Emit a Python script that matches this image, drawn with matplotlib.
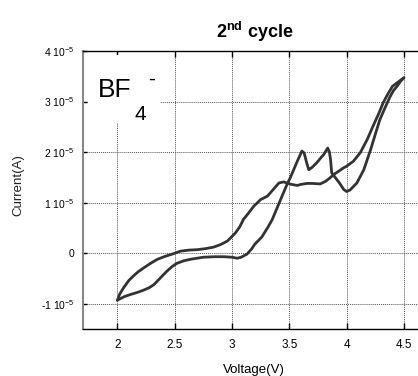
import matplotlib
matplotlib.use('Agg')
from matplotlib import pyplot as plt
from matplotlib import patches
from matplotlib.ticker import FuncFormatter

plt.rcParams['font.family'] = ['Liberation Sans', 'DejaVu Sans']
plt.rcParams['mathtext.fontset'] = 'custom'
plt.rcParams['mathtext.rm'] = 'Liberation Sans'
plt.rcParams['mathtext.bf'] = 'Liberation Sans:bold'
plt.rcParams['mathtext.default'] = 'regular'

# forward scan (2 V -> 4.5 V), the branch with the two peaks
scan_up_v = [2.00, 2.06, 2.11, 2.17, 2.23, 2.28, 2.32, 2.375, 2.43, 2.48, 2.52, 2.58,
             2.64, 2.75, 2.85, 2.93, 3.00, 3.045, 3.08, 3.13, 3.17, 3.20, 3.26, 3.31,
             3.35, 3.40, 3.45, 3.48, 3.51, 3.54, 3.57, 3.61, 3.63, 3.65, 3.67, 3.70,
             3.74, 3.78, 3.80, 3.835, 3.85, 3.86, 3.87, 3.90, 3.94, 3.975, 4.00, 4.03,
             4.06, 4.09, 4.12, 4.15, 4.18, 4.21, 4.25, 4.29, 4.33, 4.38, 4.41, 4.44,
             4.47, 4.50]
scan_up_i = [-0.93, -0.86, -0.82, -0.78, -0.73, -0.68, -0.62, -0.49, -0.36, -0.26, -0.20, -0.15,
             -0.12, -0.08, -0.07, -0.07, -0.08, -0.10, -0.08, -0.02, 0.08, 0.18, 0.32, 0.50,
             0.66, 0.93, 1.20, 1.36, 1.50, 1.66, 1.82, 2.02, 1.98, 1.80, 1.65, 1.70,
             1.79, 1.90, 1.95, 2.08, 2.00, 1.85, 1.59, 1.50, 1.38, 1.26, 1.22, 1.25,
             1.32, 1.39, 1.52, 1.65, 1.85, 2.05, 2.35, 2.64, 2.85, 3.10, 3.22, 3.30,
             3.40, 3.47]

# reverse scan (4.5 V -> 2 V)
scan_down_v = [4.50, 4.47, 4.44, 4.40, 4.36, 4.32, 4.28, 4.23, 4.18, 4.12, 4.06, 4.00,
               3.975, 3.93, 3.89, 3.85, 3.815, 3.77, 3.70, 3.655, 3.60, 3.57, 3.52, 3.49,
               3.45, 3.41, 3.36, 3.31, 3.25, 3.19, 3.14, 3.10, 3.07, 3.03, 2.96, 2.90,
               2.84, 2.77, 2.70, 2.62, 2.55, 2.49, 2.42, 2.35, 2.29, 2.23, 2.18, 2.14,
               2.10, 2.055, 2.02, 2.00]
scan_down_i = [3.47, 3.42, 3.37, 3.30, 3.15, 2.98, 2.76, 2.51, 2.25, 1.99, 1.82, 1.72,
               1.69, 1.62, 1.56, 1.48, 1.42, 1.37, 1.38, 1.38, 1.36, 1.34, 1.36, 1.38,
               1.41, 1.39, 1.26, 1.13, 1.06, 0.93, 0.78, 0.67, 0.53, 0.40, 0.24, 0.17,
               0.12, 0.09, 0.07, 0.06, 0.04, -0.01, -0.06, -0.12, -0.20, -0.29, -0.37, -0.45,
               -0.54, -0.68, -0.81, -0.93]

SCALE = 1e-5
x_ticks = [2, 2.5, 3, 3.5, 4, 4.5]
y_ticks = [-1e-5, 0, 1e-5, 2e-5, 3e-5, 4e-5]


def current_label(v, pos):
    if abs(v) < 1e-12:
        return '0'
    return '{:g} 10$^{{-5}}$'.format(round(v / SCALE, 6))


fig = plt.figure(figsize=(4.18, 3.76), dpi=100)
ax = fig.add_axes([0.1986, 0.125, 0.8225, 0.7394])

line_kw = dict(color='#333333', lw=2.0, solid_joinstyle='round', solid_capstyle='round')
ax.plot(scan_up_v, [i * SCALE for i in scan_up_i], **line_kw)
ax.plot(scan_down_v, [i * SCALE for i in scan_down_i], **line_kw)

ax.set_xlim(1.7, 4.7)
ax.set_ylim(-1.5e-5, 4e-5)
ax.set_xticks(x_ticks)
ax.set_yticks(y_ticks)
ax.xaxis.set_major_formatter(FuncFormatter(lambda v, p: '{:g}'.format(v)))
ax.yaxis.set_major_formatter(FuncFormatter(current_label))

ax.grid(True, color='#555555', linestyle=(0, (1, 1)), linewidth=0.7)
ax.set_axisbelow(True)
ax.tick_params(axis='x', direction='in', length=4, width=1, labelsize=8.5, pad=7, top=True)
ax.tick_params(axis='y', direction='in', length=3, width=1, labelsize=7.5, pad=6)

ax.spines['left'].set_color('#888888')
ax.spines['left'].set_linewidth(1.5)
ax.spines['right'].set_visible(False)
for s in ('top', 'bottom'):
    ax.spines[s].set_color('black')
    ax.spines[s].set_linewidth(1.0)

ax.set_title(r'$\mathbf{2^{nd}}$ cycle', fontsize=13, fontweight='bold', pad=9)
fig.text(254 / 418, 1 - 370 / 376, 'Voltage(V)', fontsize=9.5, ha='center', va='center')
fig.text(18 / 418, 1 - 185 / 376, 'Current(A)', fontsize=9.5, ha='center', va='center',
         rotation=90, color='#222222')

# white box behind the ion label hides the grid
ax.add_patch(patches.Rectangle((0.0145, 0.741), 0.21, 0.245, transform=ax.transAxes,
                               facecolor='white', edgecolor='none', zorder=2))
ax.text(0.0436, 0.835, 'BF', transform=ax.transAxes, fontsize=19, va='baseline', zorder=3)
ax.text(0.151, 0.752, '4', transform=ax.transAxes, fontsize=15, va='baseline', zorder=3)
ax.text(0.189, 0.878, '-', transform=ax.transAxes, fontsize=15, va='baseline', zorder=3)

fig.savefig('out.png', dpi=100)
